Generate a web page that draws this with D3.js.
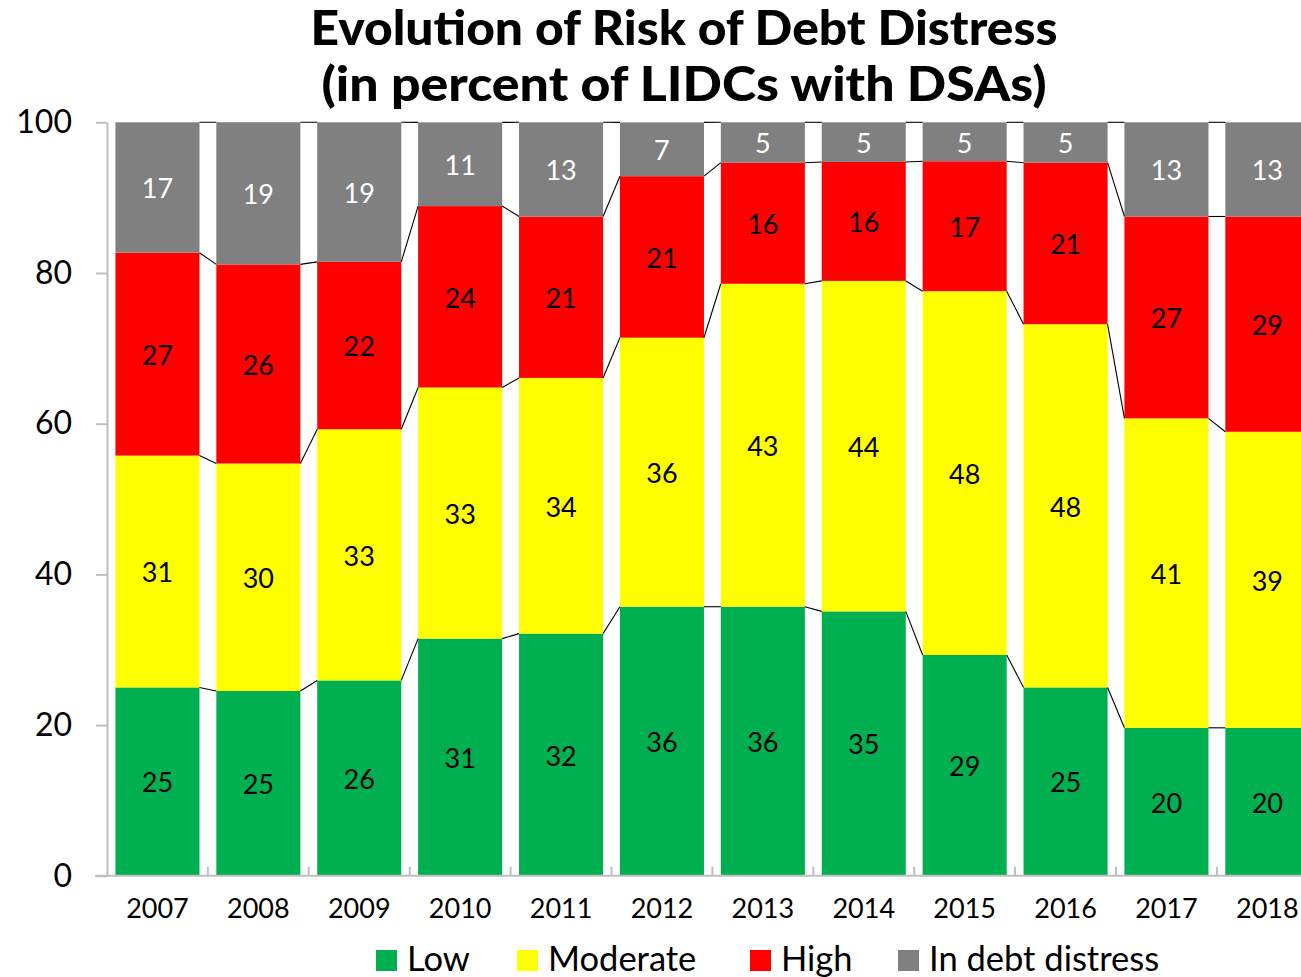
<!DOCTYPE html>
<html>
<head>
<meta charset="utf-8">
<script src="https://cdn.jsdelivr.net/npm/d3@7"></script>
<style>
  html, body { margin: 0; padding: 0; background: #fff; }
  svg { display: block; font-family: Lato, "Open Sans", sans-serif; }
</style>
</head>
<body>
<svg id="chart" width="1301" height="977"></svg>
<script>
// Risk of debt distress ratings, share of LIDCs with DSAs (percent)
const years = ["2007", "2008", "2009", "2010", "2011", "2012", "2013", "2014", "2015", "2016", "2017", "2018"];
const low = [25.00, 24.53, 25.93, 31.48, 32.14, 35.71, 35.71, 35.09, 29.31, 25.00, 19.64, 19.64];
const moderate = [30.77, 30.19, 33.33, 33.33, 33.93, 35.71, 42.86, 43.86, 48.28, 48.21, 41.07, 39.29];
const high = [26.92, 26.42, 22.22, 24.07, 21.43, 21.43, 16.07, 15.79, 17.24, 21.43, 26.79, 28.57];
const distress = [17.31, 18.87, 18.52, 11.11, 12.50, 7.14, 5.36, 5.26, 5.17, 5.36, 12.50, 12.50];

const seriesNames = ["Low", "Moderate", "High", "In debt distress"];
const seriesColors = ["#00B050", "#FFFF00", "#FF0000", "#808080"];
const labelColors = ["#000", "#000", "#000", "#fff"];
const yTicks = [0, 20, 40, 60, 80, 100];

const svg = d3.select("#chart");

const rows = years.map((y, i) => ({
  year: y, "Low": low[i], "Moderate": moderate[i], "High": high[i], "In debt distress": distress[i]
}));
const stacked = d3.stack().keys(seriesNames)(rows);

const x = d3.scaleBand().domain(years).range([107, 1317.8])
  .paddingInner(0.167).paddingOuter(0.0835);
const y = d3.scaleLinear().domain([0, 100]).range([875.8, 122.3]);
const bw = x.bandwidth();

// Title
const title = svg.append("text")
  .attr("x", 684).attr("text-anchor", "middle")
  .attr("font-weight", 900).attr("font-size", 47).attr("fill", "#000");
title.append("tspan").attr("x", 684).attr("y", 45)
  .attr("textLength", 747).attr("lengthAdjust", "spacingAndGlyphs")
  .text("Evolution of Risk of Debt Distress");
title.append("tspan").attr("x", 684).attr("y", 101)
  .attr("textLength", 725).attr("lengthAdjust", "spacingAndGlyphs")
  .text("(in percent of LIDCs with DSAs)");

// Stacked segments
const layer = svg.append("g").selectAll("g").data(stacked).join("g")
  .attr("fill", (d, i) => seriesColors[i]);
layer.selectAll("rect").data(d => d).join("rect")
  .attr("x", d => x(d.data.year))
  .attr("width", bw)
  .attr("y", d => y(d[1]))
  .attr("height", d => y(d[0]) - y(d[1]));

// Series lines joining segment tops of neighbouring bars
const lineG = svg.append("g").attr("stroke", "#000").attr("stroke-width", 1.1).attr("fill", "none");
stacked.forEach(s => {
  for (let i = 0; i < s.length - 1; i++) {
    lineG.append("line")
      .attr("x1", x(years[i]) + bw).attr("y1", y(s[i][1]))
      .attr("x2", x(years[i + 1])).attr("y2", y(s[i + 1][1]));
  }
});

// Value labels
stacked.forEach((s, k) => {
  svg.append("g").selectAll("text").data(s).join("text")
    .attr("x", d => x(d.data.year) + bw / 2)
    .attr("y", d => (y(d[0]) + y(d[1])) / 2)
    .attr("dy", "0.4em")
    .attr("text-anchor", "middle")
    .attr("font-size", 27)
    .attr("fill", labelColors[k])
    .text(d => Math.round(d[1] - d[0]));
});

// Y axis
const yAxis = svg.append("g").attr("transform", "translate(107,0)")
  .call(d3.axisLeft(y).tickValues(yTicks).tickSize(11).tickPadding(24).tickSizeOuter(0));
yAxis.select(".domain").attr("stroke", "#BFBFBF").attr("stroke-width", 2);
yAxis.selectAll(".tick line").attr("stroke", "#BFBFBF").attr("stroke-width", 2);
yAxis.selectAll(".tick text").attr("font-size", 32).attr("fill", "#000")
  .attr("font-family", "Lato, sans-serif");

// X axis baseline, category boundary ticks and year labels
const xAxis = svg.append("g").attr("transform", `translate(0,${y(0)})`)
  .call(d3.axisBottom(x).tickSize(0).tickPadding(23));
xAxis.select(".domain").remove();
xAxis.selectAll(".tick text").attr("font-size", 27).attr("fill", "#000")
  .attr("font-family", "Lato, sans-serif");
svg.append("line")
  .attr("x1", 95).attr("x2", 1301).attr("y1", y(0)).attr("y2", y(0))
  .attr("stroke", "#BFBFBF").attr("stroke-width", 2);
svg.append("g").selectAll("line").data(years.slice(1)).join("line")
  .attr("x1", d => x(d) - x.step() * x.paddingInner() / 2)
  .attr("x2", d => x(d) - x.step() * x.paddingInner() / 2)
  .attr("y1", y(0)).attr("y2", y(0) - 9)
  .attr("stroke", "#BFBFBF").attr("stroke-width", 2);

// Legend
const legendX = [376, 517, 750, 898];
const legend = svg.append("g").selectAll("g").data(seriesNames).join("g")
  .attr("transform", (d, i) => `translate(${legendX[i]},950)`);
legend.append("rect").attr("width", 21).attr("height", 21)
  .attr("fill", (d, i) => seriesColors[i]);
legend.append("text").attr("x", 31).attr("y", 21)
  .attr("font-size", 34.5).attr("fill", "#000").text(d => d);
</script>
</body>
</html>
